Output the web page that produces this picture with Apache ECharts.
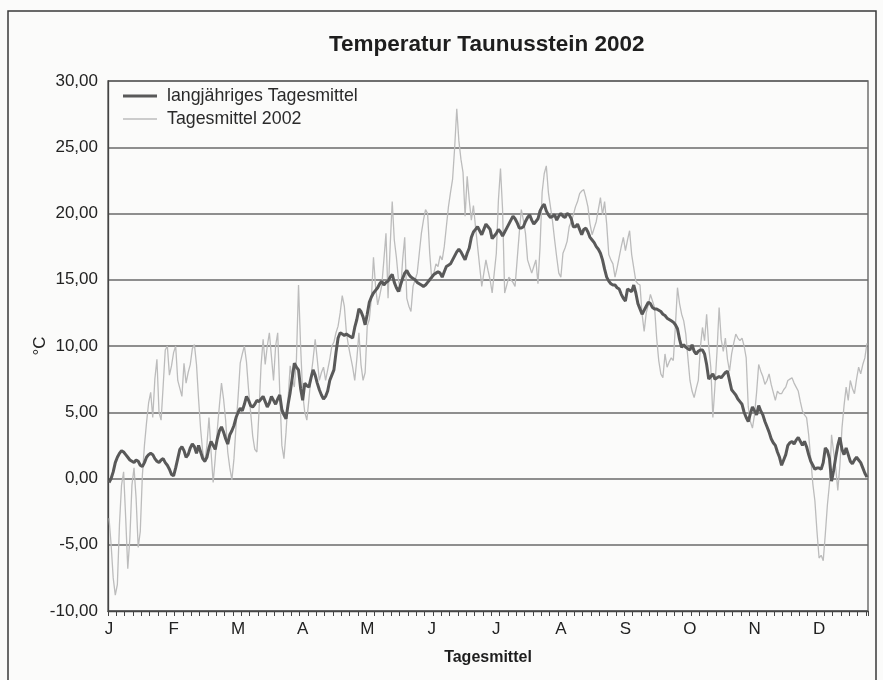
<!DOCTYPE html>
<html>
<head>
<meta charset="utf-8">
<script src="https://cdn.jsdelivr.net/npm/echarts@6/dist/echarts.min.js"></script>
<style>
  html, body { margin: 0; padding: 0; background: #fbfbfa; }
  #chart { width: 883px; height: 680px; }
</style>
</head>
<body>
<div id="chart"></div>
<script>
// Month letters shown on the x axis (one label every 31 days)
const monthLetters = ['J', 'F', 'M', 'A', 'M', 'J', 'J', 'A', 'S', 'O', 'N', 'D'];

// Y axis range (°C)
const yMin = -10, yMax = 30, yStep = 5;

// Long-term daily mean (langjähriges Tagesmittel), one value per day, Jan..Dec
const longTermMean = [
  -0.3, 0.0, 0.5, 1.2, 1.6, 1.9, 2.1, 2.0, 1.8, 1.6, 1.4, 1.3, 1.2, 1.4, 1.3, 1.0, 0.9, 1.2, 1.6, 1.8, 1.9, 1.8, 1.5, 1.3, 1.2, 1.4, 1.5, 1.2, 1.0, 0.7, 0.3,
  0.2, 0.8, 1.5, 2.2, 2.4, 2.1, 1.6, 1.8, 2.3, 2.6, 2.4, 1.9, 2.5, 2.0, 1.5, 1.3, 1.6, 2.3, 2.8, 2.5, 2.2, 3.0, 3.6, 3.9, 3.5, 3.0, 2.6, 3.3,
  3.6, 4.0, 4.6, 5.0, 5.3, 5.1, 5.6, 6.2, 5.9, 5.5, 5.4, 5.6, 5.9, 5.8, 6.0, 6.2, 5.8, 5.4, 5.7, 6.2, 5.9, 5.6, 6.0, 6.3, 5.2, 4.8, 4.5, 5.6, 6.5, 7.6, 8.7,
  8.4, 8.2, 6.8, 5.9, 7.2, 7.0, 6.9, 7.6, 8.2, 7.8, 7.2, 6.7, 6.3, 6.0, 6.2, 6.6, 7.4, 7.8, 8.2, 9.5, 10.6, 11.0, 10.9, 10.8, 10.9, 10.8, 10.7, 10.6, 11.4, 12.0,
  12.8, 12.6, 12.2, 11.6, 12.4, 13.3, 13.7, 14.0, 14.2, 14.4, 14.7, 14.9, 14.6, 14.8, 14.9, 15.2, 15.4, 14.8, 14.4, 14.1, 14.6, 15.1, 15.5, 15.7, 15.4, 15.2, 15.1, 15.0, 14.8, 14.7, 14.6,
  14.5, 14.6, 14.8, 15.0, 15.2, 15.4, 15.5, 15.6, 15.5, 15.2, 15.6, 16.0, 16.1, 16.2, 16.5, 16.8, 17.1, 17.3, 17.1, 16.8, 16.5, 17.0, 17.4, 18.2, 18.6, 18.8, 19.0, 18.7, 18.4, 18.8,
  19.2, 19.0, 18.8, 18.1, 18.3, 18.5, 18.8, 18.6, 18.3, 18.6, 18.9, 19.2, 19.5, 19.8, 19.6, 19.3, 18.9, 18.9, 19.0, 19.4, 19.7, 19.9, 19.5, 19.2, 19.4, 19.6, 20.2, 20.5, 20.7, 20.2, 19.9,
  19.7, 19.8, 19.9, 19.5, 19.8, 20.0, 19.8, 19.7, 20.0, 19.9, 19.6, 19.0, 19.0, 19.2, 18.8, 18.4, 18.8, 18.9, 18.6, 18.2, 18.0, 17.8, 17.5, 17.3, 17.0, 16.5, 15.8, 15.2, 14.9, 14.7, 14.6,
  14.6, 14.4, 14.3, 13.9, 13.6, 13.4, 14.3, 14.2, 14.1, 14.6, 14.0, 13.2, 12.8, 12.4, 12.7, 13.0, 13.3, 13.2, 12.9, 12.8, 12.8, 12.7, 12.6, 12.4, 12.3, 12.1, 12.0, 11.9, 11.8, 11.6,
  11.3, 10.5, 9.9, 10.1, 9.9, 9.8, 9.7, 10.1, 9.6, 9.4, 9.6, 9.7, 9.7, 9.4, 8.6, 7.5, 7.7, 7.9, 7.5, 7.6, 7.7, 7.6, 7.8, 8.0, 8.1, 7.4, 6.7, 6.5, 6.3, 6.0, 5.8,
  5.6, 5.0, 4.6, 4.3, 4.9, 5.4, 5.1, 4.8, 5.5, 5.1, 4.8, 4.3, 3.9, 3.5, 3.0, 2.7, 2.5, 2.0, 1.6, 1.0, 1.4, 1.8, 2.5, 2.7, 2.8, 2.6, 2.9, 3.1, 2.8, 2.5,
  2.8, 2.4, 1.8, 1.3, 1.0, 0.7, 0.8, 0.8, 0.7, 1.2, 2.3, 2.1, 1.5, -0.2, 0.6, 1.6, 2.5, 3.1, 2.2, 1.8, 2.3, 1.8, 1.3, 1.1, 1.4, 1.6, 1.4, 1.2, 0.8, 0.4, 0.1
];

// Daily mean 2002 (Tagesmittel 2002), one value per day, Jan..Dec
const dailyMean2002 = [
  -3.0, -5.0, -7.5, -8.8, -8.0, -3.5, -0.5, 0.5, -3.0, -6.8, -4.5, -0.5, 0.8, -1.5, -5.2, -4.0, 0.2, 2.5, 4.2, 5.7, 6.5, 4.6, 7.5, 9.0, 5.0, 4.4, 7.0, 9.7, 10.0, 7.8, 8.5,
  9.5, 10.0, 7.4, 6.8, 6.2, 8.7, 7.2, 8.0, 8.6, 9.8, 10.1, 8.6, 6.0, 3.7, 2.0, 1.2, 2.5, 4.6, 2.0, -0.3, 1.5, 3.7, 5.5, 7.2, 6.0, 4.4, 2.0, 0.8,
  -0.1, 1.5, 4.0, 6.2, 8.7, 9.4, 10.0, 8.8, 6.7, 5.0, 3.2, 2.2, 2.0, 5.0, 8.5, 10.5, 8.6, 10.0, 11.0, 9.2, 7.4, 10.0, 11.0, 6.5, 2.5, 1.5, 3.5, 6.0, 8.5, 7.5, 6.9,
  9.0, 14.6, 10.0, 6.4, 5.0, 4.4, 6.0, 7.7, 9.0, 10.5, 9.0, 7.4, 8.0, 8.4, 7.4, 8.2, 9.0, 10.0, 10.3, 11.0, 11.5, 12.5, 13.8, 13.0, 11.0, 10.0, 9.2, 8.4, 7.4, 9.0,
  11.0, 8.6, 7.4, 8.0, 11.5, 12.0, 13.6, 16.7, 14.5, 13.1, 13.8, 14.6, 16.5, 18.5, 13.6, 17.5, 20.9, 18.0, 16.7, 15.0, 14.1, 16.5, 18.2, 13.6, 13.0, 12.6, 14.5, 15.0, 15.5, 17.0, 18.5,
  19.5, 20.3, 20.0, 17.0, 15.0, 15.5, 16.2, 16.0, 16.8, 16.5, 17.5, 19.0, 20.5, 21.6, 22.6, 25.0, 27.9, 25.5, 24.1, 23.1, 19.8, 22.8, 21.0, 19.5, 20.6, 19.0, 17.5, 16.0, 14.5, 15.5,
  16.5, 15.7, 15.0, 14.0, 15.5, 17.0, 21.0, 23.4, 20.3, 14.0, 14.6, 15.2, 15.0, 14.8, 14.5, 16.5, 18.5, 20.3, 19.5, 18.5, 16.5, 16.0, 15.5, 16.0, 16.5, 14.7, 17.5, 21.6, 23.0, 23.6, 21.6,
  20.5, 19.4, 18.0, 16.7, 15.5, 15.2, 17.0, 17.4, 17.9, 19.0, 19.4, 19.9, 20.5, 20.9, 21.5, 21.7, 21.8, 21.2, 20.5, 19.2, 18.4, 18.9, 19.4, 20.3, 21.2, 19.9, 20.9, 19.2, 16.9, 16.5, 16.2,
  15.2, 15.9, 16.7, 17.5, 18.2, 17.2, 18.0, 18.7, 16.9, 15.9, 14.9, 14.7, 14.6, 12.4, 11.1, 12.5, 13.1, 13.9, 13.4, 12.9, 10.6, 8.9, 7.9, 7.6, 9.4, 8.4, 8.8, 9.1, 8.9, 11.5,
  14.4, 13.2, 12.4, 11.9, 10.9, 9.1, 7.4, 6.6, 6.1, 6.8, 7.4, 9.9, 11.4, 10.4, 12.4, 10.0, 8.4, 4.6, 7.0, 9.6, 12.9, 10.5, 9.6, 10.6, 9.0, 8.1, 9.4, 10.2, 10.9, 10.6, 10.4,
  10.6, 10.0, 9.1, 5.4, 4.3, 3.8, 4.8, 6.5, 8.6, 8.1, 7.7, 7.1, 7.4, 7.9, 7.1, 6.5, 5.9, 6.6, 6.4, 6.4, 6.7, 6.9, 7.4, 7.5, 7.6, 7.2, 6.9, 6.6, 5.8, 5.1,
  4.8, 4.6, 3.3, 1.5, -0.4, -1.7, -4.0, -6.0, -5.8, -6.2, -4.2, -2.0, -0.4, 3.3, 2.0, 0.8, -0.9, 1.0, 3.8, 5.5, 6.9, 5.9, 7.4, 6.8, 6.4, 7.5, 8.4, 7.9, 8.6, 9.1, 10.2
];

// Day categories (1..365) for the category axis
const dayCategories = longTermMean.map((_, i) => String(i + 1));

const chart = echarts.init(document.getElementById('chart'), null, { renderer: 'canvas' });

const font = '"Liberation Sans", Arial, sans-serif';

chart.setOption({
  animation: false,
  backgroundColor: '#fbfbfa',
  textStyle: { fontFamily: font },
  title: {
    text: 'Temperatur Taunusstein 2002',
    left: 329,
    top: 33,
    padding: 0,
    textStyle: { fontFamily: font, fontSize: 22.5, fontWeight: 'bold', color: '#1e1e1e' }
  },
  legend: {
    orient: 'vertical',
    left: 123,
    top: 87,
    padding: 0,
    itemWidth: 34,
    itemHeight: 14,
    itemGap: 5,
    symbolKeepAspect: true,
    textStyle: { fontFamily: font, fontSize: 17.8, color: '#2a2a2a', padding: [0, 0, 0, 5] },
    data: [
      { name: 'langjähriges Tagesmittel', icon: 'path://M0,0H34V3H0Z' },
      { name: 'Tagesmittel 2002', icon: 'path://M0,0H34V1.3H0Z' }
    ]
  },
  grid: {
    left: 108,
    right: 15,
    top: 81,
    bottom: 69,
    show: true,
    borderColor: '#5a5a5a',
    borderWidth: 1.3,
    backgroundColor: 'transparent'
  },
  xAxis: {
    type: 'category',
    data: dayCategories,
    boundaryGap: true,
    name: 'Tagesmittel',
    nameLocation: 'middle',
    nameGap: 39,
    nameTextStyle: { fontFamily: font, fontSize: 16, fontWeight: 'bold', color: '#1e1e1e' },
    axisLine: { show: true, onZero: false, lineStyle: { color: '#444', width: 1.3 } },
    axisTick: { show: true, interval: 3, length: 5, inside: false, lineStyle: { color: '#444', width: 1 } },
    axisLabel: {
      interval: 30,
      margin: 10,
      fontFamily: font,
      fontSize: 17,
      color: '#222',
      formatter: (v, idx) => monthLetters[Math.floor(idx / 31)] || ''
    },
    splitLine: { show: false }
  },
  yAxis: {
    type: 'value',
    min: yMin,
    max: yMax,
    interval: yStep,
    name: '°C',
    nameLocation: 'middle',
    nameGap: 59,
    nameMoveOverlap: false,
    nameRotate: 90,
    nameTextStyle: { fontFamily: font, fontSize: 17, color: '#222' },
    axisLine: { show: true, lineStyle: { color: '#444', width: 1.3 } },
    axisTick: { show: false },
    axisLabel: {
      margin: 10,
      fontFamily: font,
      fontSize: 17,
      color: '#222',
      formatter: v => v.toFixed(2).replace('.', ',')
    },
    splitLine: { show: true, lineStyle: { color: '#6a6a6a', width: 1.5 } }
  },
  graphic: [
    {
      type: 'rect',
      shape: { x: 8, y: 11, width: 868, height: 700 },
      style: { fill: 'none', stroke: '#3a3a3a', lineWidth: 1.5 },
      silent: true,
      z: -1
    }
  ],
  series: [
    {
      name: 'langjähriges Tagesmittel',
      type: 'line',
      data: longTermMean,
      symbol: 'none',
      showSymbol: false,
      z: 3,
      lineStyle: { color: '#595959', width: 3 },
      itemStyle: { color: '#595959' }
    },
    {
      name: 'Tagesmittel 2002',
      type: 'line',
      data: dailyMean2002,
      symbol: 'none',
      showSymbol: false,
      z: 2,
      lineStyle: { color: '#bcbcbc', width: 1.3 },
      itemStyle: { color: '#bcbcbc' }
    }
  ]
});
</script>
</body>
</html>
